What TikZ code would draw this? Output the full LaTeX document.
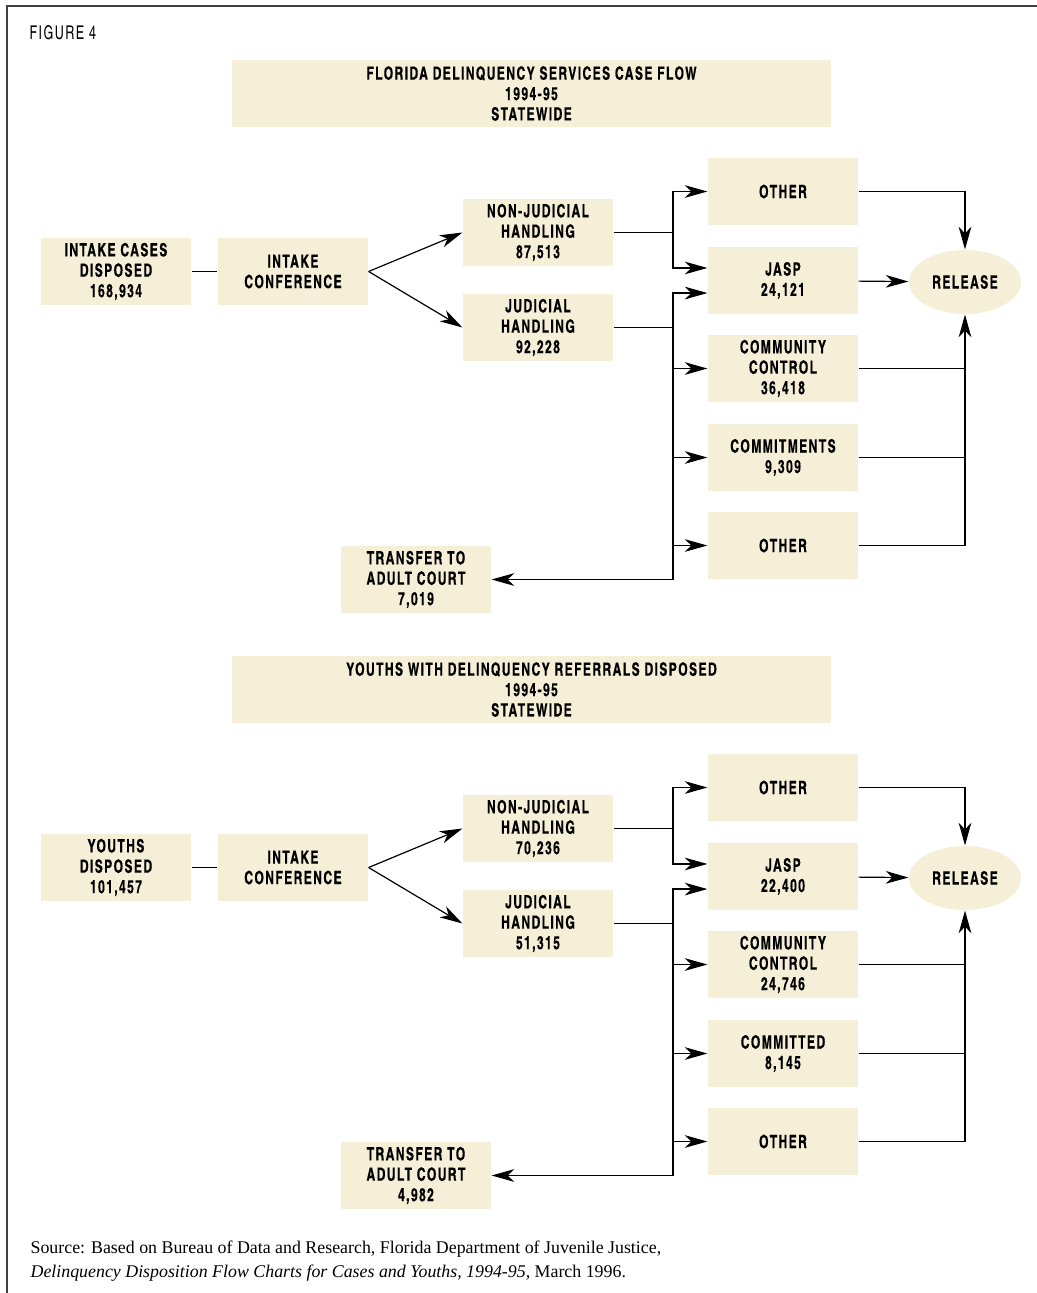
\documentclass[tikz,border=0pt]{standalone}
\usepackage{fontspec}
\setmainfont{Liberation Serif}
\newfontfamily\condfont{texgyreheroscn}[Extension=.otf, UprightFont=*-regular, BoldFont=*-bold, FakeStretch=0.81, LetterSpace=7.5, BoldFeatures={FakeBold=0.4}]
\usetikzlibrary{arrows.meta,shapes.geometric}
\definecolor{boxfill}{RGB}{246,239,215}

\begin{document}
\begin{tikzpicture}[x=0.75pt,y=-0.75pt,line width=0.9pt,
  >={Stealth[length=17pt,width=9.5pt,inset=5pt]},
  box/.style={fill=boxfill, minimum width=112.5pt, minimum height=50.25pt, inner sep=0pt,
    align=center, font=\condfont\bfseries\fontsize{13.7}{15.3}\selectfont},
  titlebox/.style={box, minimum width=449.25pt},
  release/.style={box, ellipse, minimum width=84pt, minimum height=48pt}]
  \useasboundingbox (0,0) rectangle (1037,1293);
  \draw[line width=1.2pt, black!75] (7,1293) |- (1037,6);
  \node[anchor=base west, inner sep=0pt, font=\condfont\fontsize{14.2}{15}\selectfont] (fig) at (29,39) {FIGURE 4};

  \foreach \dy/\p/\ttl/\st/\nj/\jd/\ja/\cc/\cm/\tr in {
      0/a/{FLORIDA DELINQUENCY SERVICES CASE FLOW}/{INTAKE CASES\\DISPOSED\\168,934}/{87,513}/{92,228}/{24,121}/{36,418}/{COMMITMENTS\\9,309}/{7,019},
      596/b/{YOUTHS WITH DELINQUENCY REFERRALS DISPOSED}/{YOUTHS\\DISPOSED\\101,457}/{70,236}/{51,315}/{22,400}/{24,746}/{COMMITTED\\8,145}/{4,982}}{
    \begin{scope}[shift={(0,\dy)}]
      \node[titlebox] (\p-title) at (531.5,93.5) {\ttl\\1994-95\\STATEWIDE};
      \node[box] (\p-start) at (116,271.5) {\st};
      \node[box] (\p-conf) at (293,271.5) {INTAKE\\CONFERENCE};
      \node[box] (\p-nj) at (538,232.5) {NON-JUDICIAL\\HANDLING\\\nj};
      \node[box] (\p-jd) at (538,327.5) {JUDICIAL\\HANDLING\\\jd};
      \node[box] (\p-o1) at (783,191.5) {OTHER};
      \node[box] (\p-jasp) at (783,280.5) {JASP\\\ja};
      \node[box] (\p-cc) at (783,368.5) {COMMUNITY\\CONTROL\\\cc};
      \node[box] (\p-cm) at (783,457.5) {\cm};
      \node[box] (\p-o2) at (783,545.5) {OTHER};
      \node[box] (\p-tr) at (416,579.5) {TRANSFER TO\\ADULT COURT\\\tr};
      \node[release] (\p-rel) at (965,282) {RELEASE};
      \coordinate (\p-nsplit) at (673,232.5);
      \coordinate (\p-jsplit) at (673,327.5);
      % intake
      \draw (\p-start) -- (\p-conf);
      \draw[->] (\p-conf.east) -- (\p-nj.west);
      \draw[->] (\p-conf.east) -- (\p-jd.west);
      % non-judicial
      \draw (\p-nj.east) -- (\p-nsplit);
      \draw[->] (\p-nsplit) |- (\p-o1.west);
      \draw[->] (\p-nsplit) |- ([yshift=9.4pt]\p-jasp.west);
      % judicial
      \draw (\p-jd.east) -- (\p-jsplit);
      \draw[->] (\p-jsplit) |- ([yshift=-9.4pt]\p-jasp.west);
      \draw[->] (\p-jsplit) |- (\p-cc.west);
      \draw[->] (\p-jsplit) |- (\p-cm.west);
      \draw[->] (\p-jsplit) |- (\p-o2.west);
      \draw[->] (\p-jsplit) |- (\p-tr.east);
      % release
      \draw[->] (\p-jasp) -- (\p-rel);
      \draw[->] (\p-o1.east) -| (\p-rel.north);
      \draw (\p-cc.east) -- (\p-cc.east -| \p-rel.south);
      \draw (\p-cm.east) -- (\p-cm.east -| \p-rel.south);
      \draw[->] (\p-o2.east) -| (\p-rel.south);
    \end{scope}
  }

  \node[anchor=base west, inner sep=0pt, font=\fontsize{13.4}{15}\selectfont] (src1) at (30,1253)
    {Source: Based on Bureau of Data and Research, Florida Department of Juvenile Justice,};
  \node[anchor=base west, inner sep=0pt, font=\fontsize{13.4}{15}\selectfont] (src2) at (30,1277)
    {\textit{Delinquency Disposition Flow Charts for Cases and Youths, 1994-95,} March 1996.};
\end{tikzpicture}
\end{document}
